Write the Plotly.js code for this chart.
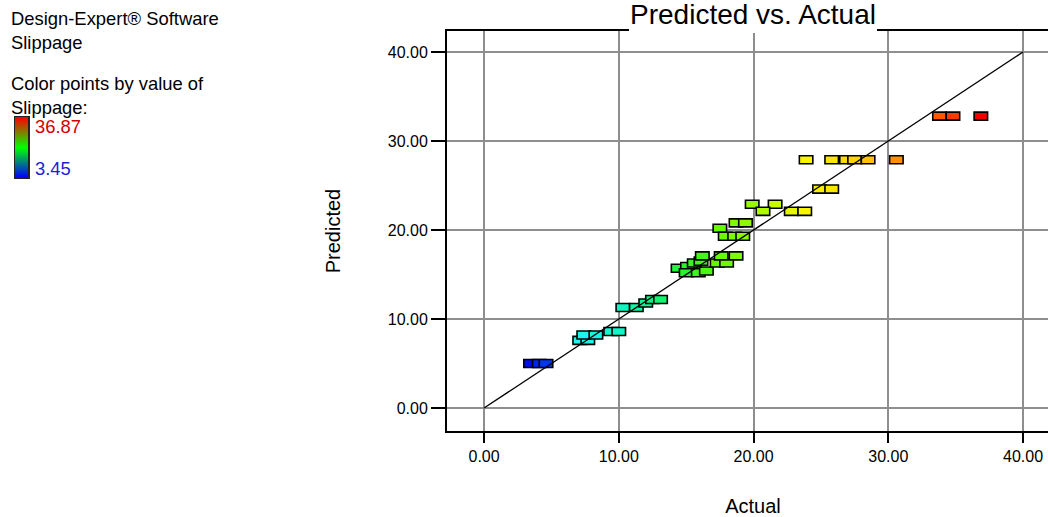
<!DOCTYPE html>
<html>
<head>
<meta charset="utf-8">
<script src="https://cdn.plot.ly/plotly-3.0.1.min.js"></script>
<style>
  html, body { margin: 0; padding: 0; background: #fff; overflow: hidden; }
  #chart { width: 1059px; height: 517px; }
</style>
</head>
<body>
<div id="chart"></div>
<script>
// ---- data ----
const actual = [
  3.45, 4.1, 4.6,
  7.1, 7.7, 7.4, 8.3, 9.4, 10.0,
  10.3, 11.3, 12.0, 12.5, 13.1,
  14.4, 15.1, 15.0, 15.9, 16.5, 15.6, 16.1, 16.2, 17.3, 18.0, 17.6, 18.7,
  17.5, 18.7, 19.4, 17.9, 18.6, 19.2,
  19.9, 21.6, 20.7, 22.8, 23.8,
  24.9, 25.8,
  23.9, 25.8, 26.9, 27.5, 28.5, 30.6,
  33.8, 34.8, 36.87
];
const predicted = [
  5.0, 5.0, 5.0,
  7.6, 7.6, 8.2, 8.2, 8.6, 8.6,
  11.3, 11.3, 11.8, 12.2, 12.2,
  15.7, 15.9, 15.2, 15.2, 15.4, 16.3, 16.5, 17.1, 16.3, 16.3, 17.1, 17.1,
  20.2, 20.8, 20.8, 19.3, 19.3, 19.3,
  22.9, 22.9, 22.1, 22.1, 22.1,
  24.6, 24.6,
  27.9, 27.9, 27.9, 27.9, 27.9, 27.9,
  32.8, 32.8, 32.8
];
const colorMin = 3.45;
const colorMax = 36.87;
const diagX = [0, 40];
const diagY = [0, 40];
const tickValues = [0, 10, 20, 30, 40];

// ---- styles ----
const FONT = 'Arial, "Liberation Sans", sans-serif';
const BOX_W = 1.0;   // marker box width in axis units
const BOX_H = 0.9;   // marker box height in axis units

const pointScale = [
  [0.00, 'rgb(0,10,240)'],
  [0.04, 'rgb(0,60,245)'],
  [0.10, 'rgb(30,245,250)'],
  [0.20, 'rgb(15,245,195)'],
  [0.27, 'rgb(10,245,135)'],
  [0.35, 'rgb(40,245,40)'],
  [0.42, 'rgb(100,250,0)'],
  [0.50, 'rgb(160,250,0)'],
  [0.55, 'rgb(205,250,0)'],
  [0.61, 'rgb(250,245,0)'],
  [0.70, 'rgb(255,220,0)'],
  [0.75, 'rgb(255,195,0)'],
  [0.81, 'rgb(255,145,0)'],
  [0.91, 'rgb(255,85,0)'],
  [1.00, 'rgb(245,0,0)']
];
const legendScale = [[0, 'rgb(0,0,255)'], [0.5, 'rgb(0,255,0)'], [1, 'rgb(255,0,0)']];

// ---- geometry ----
const W = 1059, H = 517, PL = 447, T = 31, B = 86;
const ph = H - T - B;
const fx = v => v / W;               // page px -> paper x
const fy = v => (H - B - v) / ph;    // page px -> paper y

const boxes = {
  type: 'bar', xaxis: 'x', yaxis: 'y',
  x: actual,
  y: actual.map(() => BOX_H),
  base: predicted.map(p => p - BOX_H / 2),
  width: BOX_W,
  marker: {
    color: actual,
    cmin: colorMin, cmax: colorMax,
    colorscale: pointScale,
    showscale: false,
    line: { color: '#000', width: 1.6 }
  },
  showlegend: false,
  hovertemplate: 'Actual %{x}<extra></extra>'
};

const diagonal = {
  type: 'scatter', mode: 'lines', xaxis: 'x', yaxis: 'y',
  x: diagX, y: diagY,
  line: { color: '#000', width: 1.3 },
  showlegend: false, hoverinfo: 'skip'
};

// legend colour bar (value gradient from min to max)
const legendBar = {
  type: 'heatmap', xaxis: 'x2', yaxis: 'y2',
  x: [0, 1], y: [0, 1],
  z: [[colorMin, colorMin], [colorMax, colorMax]],
  zmin: colorMin, zmax: colorMax,
  colorscale: legendScale, zsmooth: 'best',
  showscale: false, hoverinfo: 'skip'
};

const axisCommon = {
  showgrid: true, gridcolor: '#8e8e8e', gridwidth: 2,
  zeroline: false,
  showline: true, linecolor: '#000', linewidth: 2,
  ticks: 'outside', tickcolor: '#000', tickwidth: 2,
  tickvals: tickValues, tickformat: '.2f',
  tickfont: { family: FONT, size: 16, color: '#000' }
};
const legendAxis = {
  showgrid: false, zeroline: false, showticklabels: false, ticks: '',
  showline: true, mirror: true, linecolor: '#222', linewidth: 1.5,
  range: [0, 1], fixedrange: true
};

const layout = {
  width: W, height: H,
  margin: { l: 0, r: 0, t: T, b: B, pad: 0 },
  paper_bgcolor: '#fff', plot_bgcolor: 'rgba(0,0,0,0)',
  bargap: 0, barmode: 'overlay',
  title: {
    text: 'Predicted vs. Actual',
    font: { family: FONT, size: 28, color: '#000' },
    xref: 'container', yref: 'container',
    x: 753 / W, xanchor: 'center',
    y: 1 - 14 / H, yanchor: 'middle'
  },
  xaxis: Object.assign({}, axisCommon, {
    domain: [fx(PL), 1],
    range: [-2.75, 42.67], mirror: true, ticklen: 10,
    title: { text: 'Actual', font: { family: FONT, size: 20, color: '#000' }, standoff: 40 }
  }),
  yaxis: Object.assign({}, axisCommon, {
    domain: [0, 1],
    range: [-2.58, 42.36], mirror: false, ticklen: 14,
    title: { text: 'Predicted', font: { family: FONT, size: 20, color: '#000' }, standoff: 42 }
  }),
  xaxis2: Object.assign({}, legendAxis, { domain: [fx(15), fx(28)], anchor: 'y2' }),
  yaxis2: Object.assign({}, legendAxis, { domain: [fy(177), fy(117)], anchor: 'x2' }),
  shapes: [{
    type: 'rect', xref: 'paper', yref: 'paper', layer: 'above',
    x0: fx(629), x1: fx(877), y0: fy(33), y1: fy(27),
    fillcolor: '#fff', line: { width: 0 }
  }],
  annotations: [
    { text: 'Design-Expert® Software<br>Slippage', xref: 'paper', yref: 'paper',
      x: fx(9), y: fy(6), xanchor: 'left', yanchor: 'top', align: 'left', showarrow: false,
      font: { family: FONT, size: 18.4, color: '#000' } },
    { text: 'Color points by value of<br>Slippage:', xref: 'paper', yref: 'paper',
      x: fx(9), y: fy(71), xanchor: 'left', yanchor: 'top', align: 'left', showarrow: false,
      font: { family: FONT, size: 18.4, color: '#000' } },
    { text: colorMax.toFixed(2), xref: 'paper', yref: 'paper',
      x: fx(33), y: fy(126), xanchor: 'left', yanchor: 'middle', showarrow: false,
      font: { family: FONT, size: 18.4, color: 'rgb(210,0,0)' } },
    { text: colorMin.toFixed(2), xref: 'paper', yref: 'paper',
      x: fx(33), y: fy(168), xanchor: 'left', yanchor: 'middle', showarrow: false,
      font: { family: FONT, size: 18.4, color: 'rgb(30,30,210)' } }
  ]
};

Plotly.newPlot('chart', [legendBar, boxes, diagonal], layout, { displayModeBar: false, staticPlot: true });
</script>
</body>
</html>
